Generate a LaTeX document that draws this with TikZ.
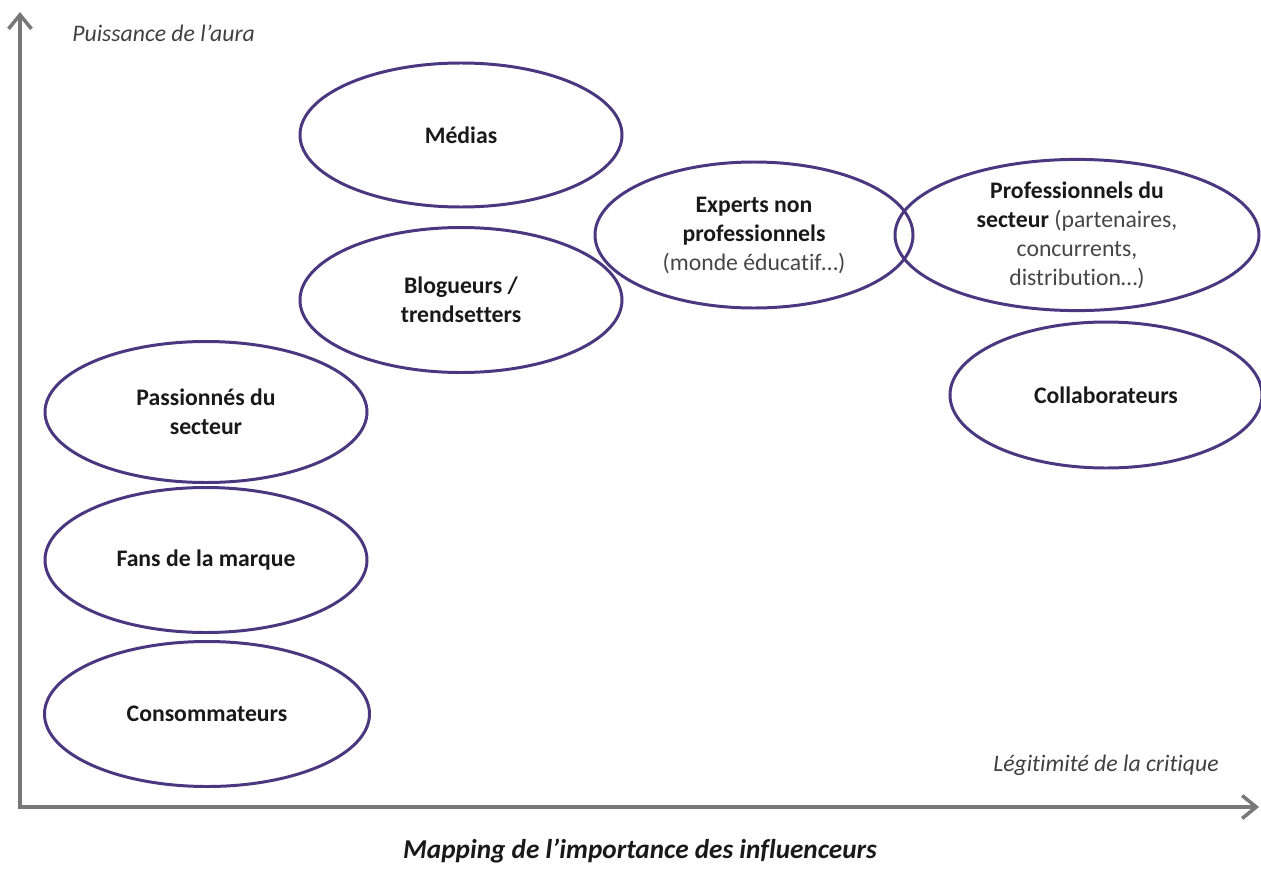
\documentclass[tikz,border=0pt]{standalone}
\usepackage{fontspec}
\setmainfont{Carlito}[Ligatures={NoCommon}]
\usetikzlibrary{shapes.geometric,arrows.meta}
\definecolor{ell}{RGB}{75,55,128}
\definecolor{axisgray}{RGB}{120,120,120}
\definecolor{txt}{RGB}{25,25,25}
\definecolor{paren}{RGB}{70,70,70}
\begin{document}
\begin{tikzpicture}[x=0.02cm,y=-0.02cm,
  bub/.style 2 args={ellipse, draw=ell, line width=1.7pt, minimum width=#1*0.02cm, minimum height=#2*0.02cm, inner sep=0pt, align=center, font=\fontsize{13.5}{16.5}\selectfont\bfseries, text=txt},
  axisline/.style={draw=axisgray, line width=2pt, line join=miter, {Straight Barb[length=8pt,width=13pt]}-{Straight Barb[length=8pt,width=13pt]}},
  axlabel/.style={font=\fontsize{13.5}{16}\selectfont\itshape, text=black!75, inner sep=0pt}]
\useasboundingbox (0,0) rectangle (1261,879);
\coordinate (O) at (20,807);
\coordinate (ytip) at (20,12);
\coordinate (xtip) at (1259,807);
\draw[axisline] (ytip) -- (O) -- (xtip);
\newcommand{\pt}[1]{{\mdseries\color{paren}#1}}
\node[bub={322}{144}] (medias) at (461,135) {Médias};
\node[bub={322}{145}] (blog) at (461,300) {Blogueurs /\\trendsetters};
\node[bub={318}{146}] (experts) at (754,235) {Experts non\\professionnels\\\pt{(monde éducatif…)}};
\node[bub={364}{146}] (pros) at (1077,235) {Professionnels du\\secteur \pt{(partenaires,}\\\pt{concurrents,}\\\pt{distribution…)}};
\node[bub={312}{146}] (collab) at (1106,395) {Collaborateurs};
\node[bub={322}{141}] (pass) at (206,412) {Passionnés du\\secteur};
\node[bub={322}{145}] (fans) at (206,560) {Fans de la marque};
\node[bub={325}{145}] (conso) at (207,714) {Consommateurs};
\node[axlabel, anchor=west] (ylab) at (72,33) {Puissance de l’aura};
\node[axlabel, anchor=east] (xlab) at (1219,765) {Légitimité de la critique};
\node[font=\fontsize{15.5}{18}\selectfont\bfseries\itshape, text=txt] (title) at (640,851) {Mapping de l’importance des influenceurs};
\end{tikzpicture}
\end{document}
